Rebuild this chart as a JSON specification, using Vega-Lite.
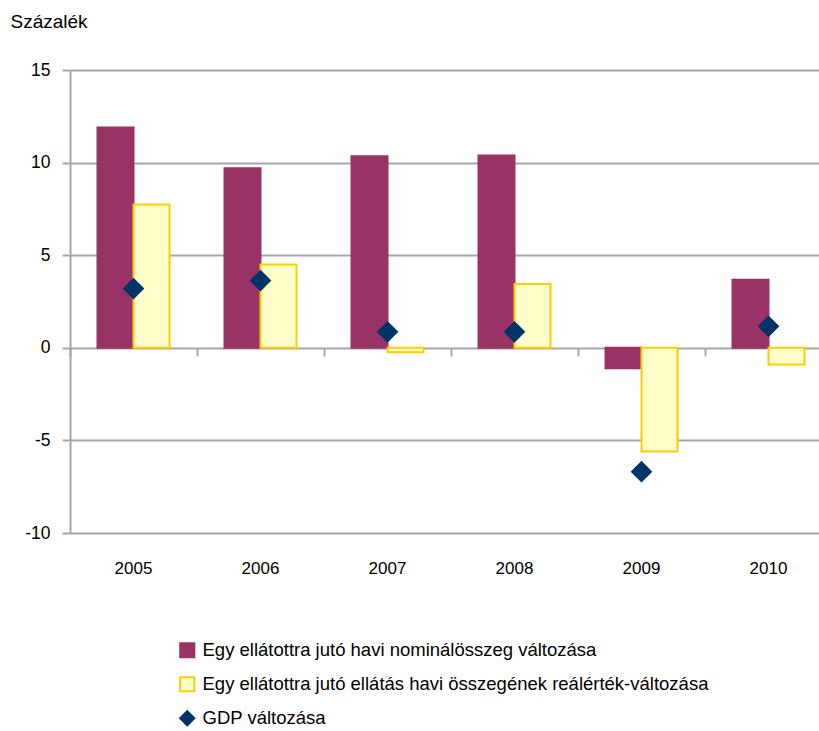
{
  "$schema": "https://vega.github.io/schema/vega-lite/v6.json",
  "autosize": "none",
  "width": 762,
  "height": 463,
  "padding": {"left": 70, "top": 70, "right": 0, "bottom": 198},
  "background": "white",
  "config": {
    "view": {"stroke": null},
    "font": "Liberation Sans",
    "axis": {"labelFont": "Liberation Sans", "titleFont": "Liberation Sans", "labelColor": "black", "titleColor": "black"},
    "legend": {"labelFont": "Liberation Sans"}
  },
  "datasets": {
    "bars": [
      {"year": "2005", "series": "Egy ellátottra jutó havi nominálösszeg változása", "value": 11.9},
      {"year": "2006", "series": "Egy ellátottra jutó havi nominálösszeg változása", "value": 9.69},
      {"year": "2007", "series": "Egy ellátottra jutó havi nominálösszeg változása", "value": 10.34},
      {"year": "2008", "series": "Egy ellátottra jutó havi nominálösszeg változása", "value": 10.39},
      {"year": "2009", "series": "Egy ellátottra jutó havi nominálösszeg változása", "value": -1.1},
      {"year": "2010", "series": "Egy ellátottra jutó havi nominálösszeg változása", "value": 3.67},
      {"year": "2005", "series": "Egy ellátottra jutó ellátás havi összegének reálérték-változása", "value": 7.74},
      {"year": "2006", "series": "Egy ellátottra jutó ellátás havi összegének reálérték-változása", "value": 4.5},
      {"year": "2007", "series": "Egy ellátottra jutó ellátás havi összegének reálérték-változása", "value": -0.24},
      {"year": "2008", "series": "Egy ellátottra jutó ellátás havi összegének reálérték-változása", "value": 3.44},
      {"year": "2009", "series": "Egy ellátottra jutó ellátás havi összegének reálérték-változása", "value": -5.6},
      {"year": "2010", "series": "Egy ellátottra jutó ellátás havi összegének reálérték-változása", "value": -0.9}
    ],
    "gdp": [
      {"year": "2005", "series": "GDP változása", "value": 3.2},
      {"year": "2006", "series": "GDP változása", "value": 3.63},
      {"year": "2007", "series": "GDP változása", "value": 0.86},
      {"year": "2008", "series": "GDP változása", "value": 0.86},
      {"year": "2009", "series": "GDP változása", "value": -6.69},
      {"year": "2010", "series": "GDP változása", "value": 1.16}
    ]
  },
  "resolve": {"axis": {"x": "independent"}},
  "layer": [
    {
      "data": {"name": "bars"},
      "mark": {"type": "bar", "strokeWidth": 2},
      "encoding": {
        "x": {
          "field": "year", "type": "nominal",
          "scale": {"paddingInner": 0, "paddingOuter": 0},
          "axis": {"title": null, "orient": "bottom", "domain": false, "ticks": false, "labelAngle": 0, "labelFontSize": 17, "labelPadding": 27}
        },
        "xOffset": {
          "field": "series", "type": "nominal",
          "scale": {"domain": ["Egy ellátottra jutó havi nominálösszeg változása", "Egy ellátottra jutó ellátás havi összegének reálérték-változása"], "paddingInner": 0, "paddingOuter": 0.764}
        },
        "y": {
          "field": "value", "type": "quantitative",
          "scale": {"domain": [-10, 15], "nice": false, "zero": false},
          "axis": {
            "values": [-10, -5, 0, 5, 10, 15],
            "labelExpr": "datum.value < 0 ? '-' + abs(datum.value) : '' + datum.value",
            "title": "Százalék", "titleAngle": 0, "titleAlign": "left", "titleBaseline": "alphabetic",
            "titleX": -60, "titleY": -43, "titleFontSize": 19, "titleFontWeight": "normal",
            "labelFontSize": 17.5, "labelPadding": 12,
            "domainColor": "#A6A6A6", "domainWidth": 2,
            "tickColor": "#A6A6A6", "tickWidth": 2, "tickSize": 8,
            "gridColor": "#A6A6A6", "gridWidth": 2, "grid": true
          }
        },
        "fill": {
          "field": "series", "type": "nominal",
          "scale": {"domain": ["Egy ellátottra jutó havi nominálösszeg változása", "Egy ellátottra jutó ellátás havi összegének reálérték-változása", "GDP változása"], "range": ["#993366", "#FFFFCC", "#003366"]},
          "legend": {"title": null, "orient": "none", "legendX": 108, "legendY": 571, "symbolSize": 200, "labelFontSize": 18.5, "labelLimit": 0, "rowPadding": 11, "symbolStrokeWidth": 2, "labelOffset": 6}
        },
        "stroke": {
          "field": "series", "type": "nominal",
          "scale": {"domain": ["Egy ellátottra jutó havi nominálösszeg változása", "Egy ellátottra jutó ellátás havi összegének reálérték-változása", "GDP változása"], "range": ["#993366", "#FFCC00", "#003366"]},
          "legend": {"title": null, "orient": "none", "legendX": 108, "legendY": 571, "symbolSize": 200, "labelFontSize": 18.5, "labelLimit": 0, "rowPadding": 11, "symbolStrokeWidth": 2, "labelOffset": 6}
        }
      }
    },
    {
      "data": {"name": "gdp"},
      "mark": {"type": "point", "filled": true, "size": 470, "opacity": 1, "strokeWidth": 0},
      "encoding": {
        "x": {
          "field": "year", "type": "nominal",
          "axis": {"title": null, "orient": "bottom", "labels": false, "domain": false, "tickBand": "extent", "tickColor": "#A6A6A6", "tickWidth": 2, "tickSize": 8, "offset": -185}
        },
        "y": {"field": "value", "type": "quantitative"},
        "fill": {"field": "series", "type": "nominal"},
        "stroke": {"field": "series", "type": "nominal"},
        "shape": {
          "field": "series", "type": "nominal",
          "scale": {"domain": ["Egy ellátottra jutó havi nominálösszeg változása", "Egy ellátottra jutó ellátás havi összegének reálérték-változása", "GDP változása"], "range": ["square", "square", "diamond"]},
          "legend": {"title": null, "orient": "none", "legendX": 108, "legendY": 571, "symbolSize": 200, "labelFontSize": 18.5, "labelLimit": 0, "rowPadding": 11, "symbolStrokeWidth": 2, "labelOffset": 6}
        }
      }
    }
  ]
}
